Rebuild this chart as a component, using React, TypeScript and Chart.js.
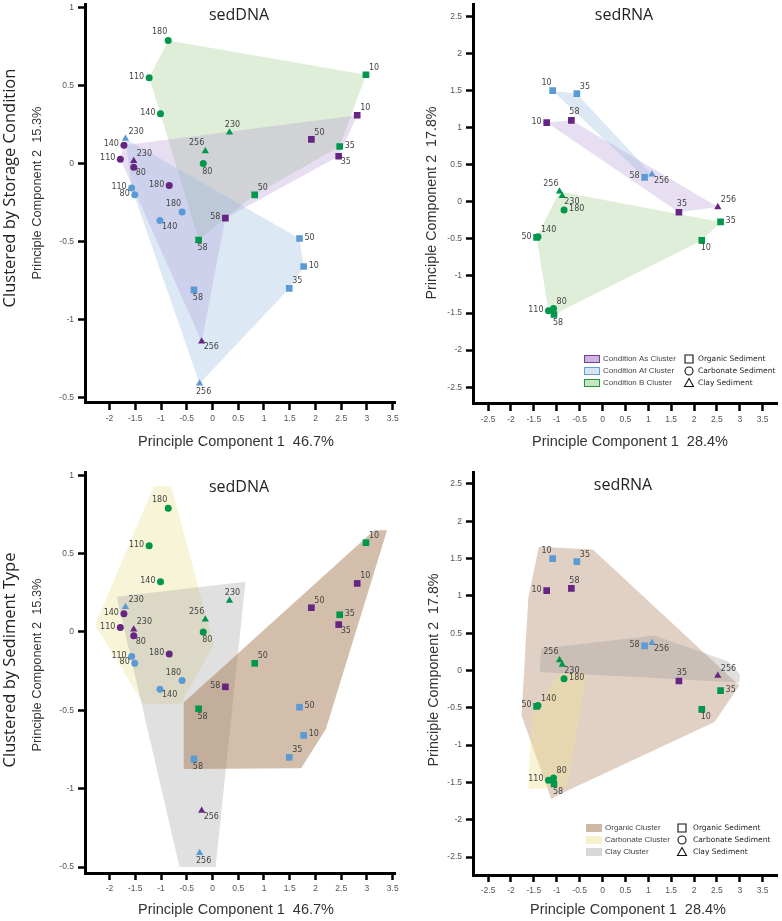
import React, { useEffect, useRef } from "react";
import { Chart, registerables } from "chart.js";

Chart.register(...registerables);

// ---------------- sedDNA PCA scores (left panels) ----------------
const DNA_AS_DEPTH = [10, 50, 35, 140, 110, 230, 80, 180, 58, 256];
const DNA_AS_PC1 = [2.81, 1.92, 2.45, -1.72, -1.79, -1.53, -1.53, -0.84, 0.25, -0.21];
const DNA_AS_PC2 = [0.31, 0.155, 0.047, 0.117, 0.028, 0.017, -0.024, -0.14, -0.35, -1.14];
const DNA_AS_LABEL_AT = ["tr", "tr", "br", "l", "l", "tr", "br", "l", "l", "br"];

const DNA_AF_DEPTH = [230, 110, 80, 180, 140, 50, 10, 35, 58, 256];
const DNA_AF_PC1 = [-1.69, -1.57, -1.51, -0.59, -1.02, 1.69, 1.77, 1.49, -0.36, -0.25];
const DNA_AF_PC2 = [0.16, -0.157, -0.2, -0.31, -0.365, -0.48, -0.66, -0.8, -0.81, -1.41];
const DNA_AF_LABEL_AT = ["tr", "l", "l", "tl", "br", "r", "r", "tr", "b", "b"];

const DNA_B_DEPTH = [180, 110, 140, 10, 230, 256, 80, 35, 50, 58];
const DNA_B_PC1 = [-0.86, -1.23, -1.01, 2.98, 0.33, -0.14, -0.18, 2.47, 0.82, -0.27];
const DNA_B_PC2 = [0.79, 0.55, 0.32, 0.57, 0.2, 0.08, 0.0, 0.11, -0.2, -0.49];
const DNA_B_LABEL_AT = ["tl", "l", "l", "tr", "t", "tl", "b", "r", "tr", "b"];

// ---------------- sedRNA PCA scores (right panels) ----------------
const RNA_AS_DEPTH = [10, 58, 35, 256];
const RNA_AS_PC1 = [-1.22, -0.68, 1.67, 2.52];
const RNA_AS_PC2 = [1.07, 1.1, -0.14, -0.07];
const RNA_AS_LABEL_AT = ["l", "t", "t", "tr"];

const RNA_AF_DEPTH = [10, 35, 58, 256];
const RNA_AF_PC1 = [-1.09, -0.56, 0.92, 1.08];
const RNA_AF_PC2 = [1.5, 1.46, 0.33, 0.37];
const RNA_AF_LABEL_AT = ["tl", "tr", "l", "br"];

const RNA_B_DEPTH = [256, 230, 180, 35, 10, 50, 140, 110, 80, 58];
const RNA_B_PC1 = [-0.94, -0.88, -0.84, 2.58, 2.17, -1.44, -1.41, -1.18, -1.07, -1.06];
const RNA_B_PC2 = [0.14, 0.08, -0.11, -0.27, -0.52, -0.48, -0.47, -1.47, -1.44, -1.52];
const RNA_B_LABEL_AT = ["tl", "br", "r", "r", "b", "l", "tr", "l", "tr", "b"];

// sediment type of each depth (cm)
const ORGANIC_DEPTHS = [10, 35, 50, 58];
const CARBONATE_DEPTHS = [80, 110, 140, 180];
const CLAY_DEPTHS = [230, 256];

// ---------------- cluster outlines (PC1, PC2) ----------------
const DNA_B_HULL: [number, number][] = [[-0.86, 0.79], [2.98, 0.57], [2.47, 0.11], [0.82, -0.2], [-0.27, -0.49], [-1.01, 0.32], [-1.23, 0.55]];
const DNA_AS_HULL: [number, number][] = [[-1.72, 0.117], [2.81, 0.31], [2.45, 0.047], [0.25, -0.35], [-0.21, -1.14], [-1.79, 0.028]];
const DNA_AF_HULL: [number, number][] = [[-1.69, 0.16], [1.69, -0.48], [1.77, -0.66], [1.49, -0.8], [-0.25, -1.41], [-1.57, -0.157]];

const RNA_AF_HULL: [number, number][] = [[-1.09, 1.5], [-0.56, 1.46], [1.08, 0.37], [0.92, 0.33]];
const RNA_AS_HULL: [number, number][] = [[-1.22, 1.07], [-0.68, 1.1], [2.52, -0.07], [1.67, -0.14]];
const RNA_B_HULL: [number, number][] = [[-0.94, 0.14], [2.58, -0.27], [2.17, -0.52], [-1.06, -1.52], [-1.18, -1.47], [-1.44, -0.48]];

const DNA_ORGANIC_HULL: [number, number][] = [[3.14, 0.65], [3.39, 0.65], [2.2, -0.62], [1.72, -0.87], [-0.56, -0.875], [-0.56, -0.45]];
const DNA_CARBONATE_HULL: [number, number][] = [[-1.14, 0.93], [-0.8, 0.93], [0.025, -0.083], [-0.62, -0.46], [-1.34, -0.46], [-2.28, 0.045]];
const DNA_CLAY_HULL: [number, number][] = [[-1.86, 0.225], [0.64, 0.32], [0.06, -1.5], [-0.64, -1.5]];

const RNA_ORGANIC_HULL: [number, number][] = [[-1.39, 1.66], [-0.21, 1.62], [2.99, -0.2], [2.45, -0.69], [-0.91, -1.65], [-1.12, -1.72], [-1.77, -0.6], [-1.62, 0.98]];
const RNA_CARBONATE_HULL: [number, number][] = [[-0.34, -0.02], [-0.77, -1.56], [-1.62, -1.59], [-1.55, -0.63], [-0.95, -0.05]];
const RNA_CLAY_HULL: [number, number][] = [[-1.34, 0.29], [1.13, 0.47], [2.75, 0.12], [3.0, -0.05], [2.99, -0.16], [-1.37, -0.02]];

// ---------------- ticks ----------------
const DNA_X_TICKS = [-2, -1.5, -1, -0.5, 0, 0.5, 1, 1.5, 2, 2.5, 3, 3.5];
const DNA_X_TICK_LABELS = ["-2", "-1.5", "-1", "-0.5", "0", "0.5", "1", "1.5", "2", "2.5", "3", "3.5"];
const DNA_Y_TICKS = [1, 0.5, 0, -0.5, -1, -1.5];
const DNA_Y_TICK_LABELS = ["1", "0.5", "0", "-0.5", "-1", "-0.5"];
const RNA_X_TICKS = [-2.5, -2, -1.5, -1, -0.5, 0, 0.5, 1, 1.5, 2, 2.5, 3, 3.5];
const RNA_X_TICK_LABELS = ["-2.5", "-2", "-1.5", "-1", "-0.5", "0", "0.5", "1", "1.5", "2", "2.5", "3", "3.5"];
const RNA_Y_TICKS = [2.5, 2, 1.5, 1, 0.5, 0, -0.5, -1, -1.5, -2, -2.5];
const RNA_Y_TICK_LABELS = ["2.5", "2", "1.5", "1", "0.5", "0", "-0.5", "-1", "-1.5", "-2", "-2.5"];

// ---------------- styling ----------------
const W = 782;
const H = 921;
const Y_AXIS_W = 40;
const X_AXIS_H = 26;
const PURPLE = "#662483";
const BLUE = "#5b9bd5";
const GREEN = "#00964b";

function sediment(d: number): string {
  if (ORGANIC_DEPTHS.includes(d)) return "organic";
  if (CARBONATE_DEPTHS.includes(d)) return "carbonate";
  return "clay";
}
const STYLE_OF: Record<string, string> = { organic: "rect", carbonate: "circle", clay: "triangle" };
const RADIUS_OF: Record<string, number> = { organic: 4.7, carbonate: 3.5, clay: 4.2 };

function placeLabel(code: string, x: number, y: number): [number, number, CanvasTextAlign] {
  switch (code) {
    case "l": return [x - 5, y - 1, "right"];
    case "r": return [x + 5, y - 1, "left"];
    case "t": return [x + 3, y - 8, "center"];
    case "b": return [x + 4, y + 8, "center"];
    case "tl": return [x - 1, y - 8, "right"];
    case "tr": return [x + 3, y - 7, "left"];
    case "br": return [x + 2, y + 6, "left"];
    default: return [x - 2, y + 6, "right"];
  }
}

type Series = { color: string; depth: number[]; pc1: number[]; pc2: number[]; at: string[] };
type Txt = { text: string; x: number; y: number; font: string; color: string; rotate?: boolean };
type Legend = {
  swX: number; swW: number; swH: number; textX: number; rows: number[];
  items: { label: string; fill: string; stroke?: string }[];
  shapeX: number; shapeTextX: number;
};
type PanelCfg = {
  area: { left: number; top: number; right: number; bottom: number };
  xMin: number; xMax: number; yMin: number; yMax: number;
  xTicks: number[]; xLabels: string[]; yTicks: number[]; yLabels: string[];
  series: Series[];
  polys: { pts: [number, number][]; fill: string }[];
  texts: Txt[];
  legend?: Legend;
};

const TITLE_FONT = '16px "Open Sans"';
const XT_FONT = '14.5px "Liberation Sans"';
const ROW_FONT = '16.5px "Open Sans"';

const DNA_SERIES: Series[] = [
  { color: PURPLE, depth: DNA_AS_DEPTH, pc1: DNA_AS_PC1, pc2: DNA_AS_PC2, at: DNA_AS_LABEL_AT },
  { color: BLUE, depth: DNA_AF_DEPTH, pc1: DNA_AF_PC1, pc2: DNA_AF_PC2, at: DNA_AF_LABEL_AT },
  { color: GREEN, depth: DNA_B_DEPTH, pc1: DNA_B_PC1, pc2: DNA_B_PC2, at: DNA_B_LABEL_AT },
];
const RNA_SERIES: Series[] = [
  { color: PURPLE, depth: RNA_AS_DEPTH, pc1: RNA_AS_PC1, pc2: RNA_AS_PC2, at: RNA_AS_LABEL_AT },
  { color: BLUE, depth: RNA_AF_DEPTH, pc1: RNA_AF_PC1, pc2: RNA_AF_PC2, at: RNA_AF_LABEL_AT },
  { color: GREEN, depth: RNA_B_DEPTH, pc1: RNA_B_PC1, pc2: RNA_B_PC2, at: RNA_B_LABEL_AT },
];

const PANELS: PanelCfg[] = [
  {
    area: { left: 85, top: 2, right: 395, bottom: 403 },
    xMin: -2.476, xMax: 3.544, yMin: -1.535, yMax: 1.019,
    xTicks: DNA_X_TICKS, xLabels: DNA_X_TICK_LABELS, yTicks: DNA_Y_TICKS, yLabels: DNA_Y_TICK_LABELS,
    series: DNA_SERIES,
    polys: [
      { pts: DNA_B_HULL, fill: "rgba(160,205,140,0.34)" },
      { pts: DNA_AS_HULL, fill: "rgba(175,145,210,0.30)" },
      { pts: DNA_AF_HULL, fill: "rgba(150,185,225,0.32)" },
    ],
    texts: [
      { text: "sedDNA", x: 239, y: 15, font: TITLE_FONT, color: "#222" },
      { text: "Principle Component 1  46.7%", x: 236, y: 442, font: XT_FONT, color: "#333" },
      { text: "Principle Component 2  15.3%", x: 37, y: 193, font: '12.8px "Liberation Sans"', color: "#333", rotate: true },
      { text: "Clustered by Storage Condition", x: 10, y: 188, font: ROW_FONT, color: "#222", rotate: true },
    ],
  },
  {
    area: { left: 473, top: 1, right: 782, bottom: 404 },
    xMin: -2.83, xMax: 3.82, yMin: -2.727, yMax: 2.66,
    xTicks: RNA_X_TICKS, xLabels: RNA_X_TICK_LABELS, yTicks: RNA_Y_TICKS, yLabels: RNA_Y_TICK_LABELS,
    series: RNA_SERIES,
    polys: [
      { pts: RNA_B_HULL, fill: "rgba(160,205,140,0.34)" },
      { pts: RNA_AS_HULL, fill: "rgba(175,145,210,0.30)" },
      { pts: RNA_AF_HULL, fill: "rgba(150,185,225,0.32)" },
    ],
    texts: [
      { text: "sedRNA", x: 624, y: 15, font: TITLE_FONT, color: "#222" },
      { text: "Principle Component 1  28.4%", x: 630, y: 442, font: XT_FONT, color: "#333" },
      { text: "Principle Component 2  17.8%", x: 432, y: 203, font: '14.3px "Liberation Sans"', color: "#333", rotate: true },
    ],
    legend: {
      swX: 584, swW: 16, swH: 8, textX: 603, rows: [359, 371, 383],
      items: [
        { label: "Condition As Cluster", fill: "#cdb4e1", stroke: "#7a3c96" },
        { label: "Condition Af Cluster", fill: "#d7e4f5", stroke: "#64a0d7" },
        { label: "Condition B Cluster", fill: "#c8e6be", stroke: "#1e9646" },
      ],
      shapeX: 689, shapeTextX: 698,
    },
  },
  {
    area: { left: 85, top: 472, right: 395, bottom: 873 },
    xMin: -2.476, xMax: 3.544, yMin: -1.538, yMax: 1.021,
    xTicks: DNA_X_TICKS, xLabels: DNA_X_TICK_LABELS, yTicks: DNA_Y_TICKS, yLabels: DNA_Y_TICK_LABELS,
    series: DNA_SERIES,
    polys: [
      { pts: DNA_CARBONATE_HULL, fill: "rgba(235,225,150,0.38)" },
      { pts: DNA_CLAY_HULL, fill: "rgba(160,160,160,0.32)" },
      { pts: DNA_ORGANIC_HULL, fill: "rgba(160,120,80,0.48)" },
    ],
    texts: [
      { text: "sedDNA", x: 239, y: 487, font: TITLE_FONT, color: "#222" },
      { text: "Principle Component 1  46.7%", x: 236, y: 910, font: XT_FONT, color: "#333" },
      { text: "Principle Component 2  15.3%", x: 37, y: 665, font: '12.8px "Liberation Sans"', color: "#333", rotate: true },
      { text: "Clustered by Sediment Type", x: 10, y: 660, font: ROW_FONT, color: "#222", rotate: true },
    ],
  },
  {
    area: { left: 473, top: 472, right: 782, bottom: 875 },
    xMin: -2.83, xMax: 3.82, yMin: -2.74, yMax: 2.66,
    xTicks: RNA_X_TICKS, xLabels: RNA_X_TICK_LABELS, yTicks: RNA_Y_TICKS, yLabels: RNA_Y_TICK_LABELS,
    series: RNA_SERIES,
    polys: [
      { pts: RNA_ORGANIC_HULL, fill: "rgba(175,135,100,0.38)" },
      { pts: RNA_CARBONATE_HULL, fill: "rgba(240,225,150,0.40)" },
      { pts: RNA_CLAY_HULL, fill: "rgba(150,150,150,0.30)" },
    ],
    texts: [
      { text: "sedRNA", x: 623, y: 485, font: TITLE_FONT, color: "#222" },
      { text: "Principle Component 1  28.4%", x: 628, y: 910, font: XT_FONT, color: "#333" },
      { text: "Principle Component 2  17.8%", x: 434, y: 670, font: '14.3px "Liberation Sans"', color: "#333", rotate: true },
    ],
    legend: {
      swX: 586, swW: 16, swH: 8, textX: 605, rows: [828, 840, 852],
      items: [
        { label: "Organic Cluster", fill: "#cdb9a5" },
        { label: "Carbonate Cluster", fill: "#f5f0cd" },
        { label: "Clay Cluster", fill: "#d7d7d7" },
      ],
      shapeX: 682, shapeTextX: 693,
    },
  },
];

const SHAPE_LABELS = ["Organic Sediment", "Carbonate Sediment", "Clay Sediment"];

function Panel({ cfg }: { cfg: PanelCfg }) {
  const ref = useRef<HTMLCanvasElement>(null);
  useEffect(() => {
    const canvas = ref.current;
    if (!canvas) return;

    const fitAxis = (s: any) => {
      if (s.isHorizontal()) s.height = X_AXIS_H;
      else s.width = Y_AXIS_W;
      s.paddingLeft = 0; s.paddingRight = 0; s.paddingTop = 0; s.paddingBottom = 0;
    };

    const decor = {
      id: "decor" + Math.random().toString(36).slice(2),
      beforeDatasetsDraw(chart: any) {
        const { ctx, chartArea, scales } = chart;
        ctx.save();
        ctx.beginPath();
        ctx.rect(chartArea.left, chartArea.top, chartArea.right - chartArea.left, chartArea.bottom - chartArea.top);
        ctx.clip();
        for (const p of cfg.polys) {
          ctx.beginPath();
          p.pts.forEach(([x, y], i) => {
            const px = scales.x.getPixelForValue(x);
            const py = scales.y.getPixelForValue(y);
            if (i === 0) ctx.moveTo(px, py);
            else ctx.lineTo(px, py);
          });
          ctx.closePath();
          ctx.fillStyle = p.fill;
          ctx.fill();
        }
        ctx.restore();
      },
      afterDatasetsDraw(chart: any) {
        const { ctx } = chart;
        ctx.save();
        ctx.font = '8px "DejaVu Sans"';
        ctx.fillStyle = "#444";
        ctx.textBaseline = "middle";
        cfg.series.forEach((s, di) => {
          const meta = chart.getDatasetMeta(di);
          meta.data.forEach((el: any, i: number) => {
            const [lx, ly, al] = placeLabel(s.at[i], el.x, el.y);
            ctx.textAlign = al;
            ctx.fillText(String(s.depth[i]), lx, ly);
          });
        });
        ctx.restore();
      },
      afterDraw(chart: any) {
        const { ctx } = chart;
        ctx.save();
        ctx.textBaseline = "middle";
        ctx.textAlign = "center";
        for (const t of cfg.texts) {
          ctx.font = t.font;
          ctx.fillStyle = t.color;
          if (t.rotate) {
            ctx.save();
            ctx.translate(t.x, t.y);
            ctx.rotate(-Math.PI / 2);
            ctx.fillText(t.text, 0, 0);
            ctx.restore();
          } else {
            ctx.fillText(t.text, t.x, t.y);
          }
        }
        const lg = cfg.legend;
        if (lg) {
          ctx.textAlign = "left";
          lg.items.forEach((it, i) => {
            const y = lg.rows[i];
            ctx.fillStyle = it.fill;
            ctx.fillRect(lg.swX, y - lg.swH / 2, lg.swW, lg.swH);
            if (it.stroke) {
              ctx.strokeStyle = it.stroke;
              ctx.lineWidth = 1;
              ctx.strokeRect(lg.swX + 0.5, y - lg.swH / 2 + 0.5, lg.swW - 1, lg.swH - 1);
            }
            ctx.font = '8px "Liberation Sans"';
            ctx.fillStyle = "#444";
            ctx.fillText(it.label, lg.textX, y);
          });
          ctx.strokeStyle = "#111";
          ctx.lineWidth = 1.1;
          SHAPE_LABELS.forEach((lab, i) => {
            const y = lg.rows[i];
            const x = lg.shapeX;
            ctx.beginPath();
            if (i === 0) ctx.rect(x - 4, y - 4, 8, 8);
            else if (i === 1) ctx.arc(x, y, 4, 0, Math.PI * 2);
            else {
              ctx.moveTo(x, y - 4.5);
              ctx.lineTo(x + 4.5, y + 3.5);
              ctx.lineTo(x - 4.5, y + 3.5);
              ctx.closePath();
            }
            ctx.stroke();
            ctx.font = '7.5px "DejaVu Sans"';
            ctx.fillStyle = "#222";
            ctx.fillText(lab, lg.shapeTextX, y);
          });
        }
        ctx.restore();
      },
    };

    const axisCommon = {
      type: "linear" as const,
      border: { display: true, color: "#000", width: 3 },
      grid: { display: true, drawOnChartArea: false, drawTicks: true, tickLength: 7, tickWidth: 2.5, tickColor: "#000", color: "#000" },
      afterFit: fitAxis,
    };

    const chart = new Chart(canvas, {
      type: "scatter",
      data: {
        datasets: cfg.series.map((s) => ({
          data: s.pc1.map((x, i) => ({ x, y: s.pc2[i] })),
          backgroundColor: s.color,
          borderColor: s.color,
          borderWidth: 0,
          pointStyle: s.depth.map((d) => STYLE_OF[sediment(d)]) as any,
          pointRadius: s.depth.map((d) => RADIUS_OF[sediment(d)]),
        })),
      },
      options: {
        responsive: false,
        animation: false,
        events: [],
        layout: {
          padding: {
            left: cfg.area.left - Y_AXIS_W,
            top: cfg.area.top,
            right: W - cfg.area.right,
            bottom: H - cfg.area.bottom - X_AXIS_H,
          },
        },
        plugins: { legend: { display: false }, tooltip: { enabled: false }, title: { display: false } },
        scales: {
          x: {
            ...axisCommon,
            position: "bottom",
            min: cfg.xMin,
            max: cfg.xMax,
            afterBuildTicks: (s: any) => { s.ticks = cfg.xTicks.map((v) => ({ value: v })); },
            ticks: {
              autoSkip: false,
              maxRotation: 0,
              padding: 4,
              color: "#555",
              font: { family: "Liberation Sans", size: 8.5 },
              callback: (_v: any, i: number) => cfg.xLabels[i],
            },
          },
          y: {
            ...axisCommon,
            position: "left",
            min: cfg.yMin,
            max: cfg.yMax,
            afterBuildTicks: (s: any) => { s.ticks = cfg.yTicks.map((v) => ({ value: v })); },
            ticks: {
              autoSkip: false,
              padding: 4,
              color: "#555",
              font: { family: "Liberation Sans", size: 8.5 },
              callback: (_v: any, i: number) => cfg.yLabels[i],
            },
          },
        },
      } as any,
      plugins: [decor],
    });
    return () => chart.destroy();
  }, [cfg]);
  return (
    <canvas
      ref={ref}
      width={W}
      height={H}
      style={{ position: "absolute", left: 0, top: 0, width: W, height: H }}
    />
  );
}

export default function App() {
  return (
    <div style={{ position: "absolute", left: 0, top: 0, width: W, height: H, background: "#fff", overflow: "hidden" }}>
      {PANELS.map((p, i) => (
        <Panel key={i} cfg={p} />
      ))}
    </div>
  );
}
